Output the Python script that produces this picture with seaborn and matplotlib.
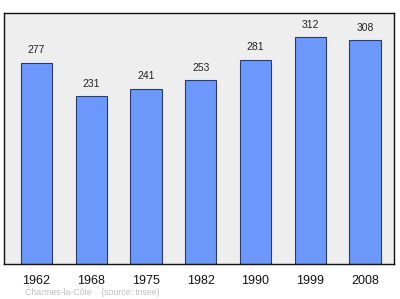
import matplotlib
matplotlib.use("Agg")
import matplotlib.pyplot as plt
import seaborn as sns
import pandas as pd

years = ["1962", "1968", "1975", "1982", "1990", "1999", "2008"]
population = [277, 231, 241, 253, 281, 312, 308]
title_text = "Charmes-la-Côte    (source: Insee)"

df = pd.DataFrame({"year": years, "pop": population})

sns.set_style("white")
plt.rcParams['font.family'] = ['Liberation Sans', 'DejaVu Sans']

fig = plt.figure(figsize=(4.0, 2.99), dpi=100)
ax = fig.add_axes([0.01, 0.1187, 0.975, 0.837])
ax.set_facecolor("#eeeeee")

sns.barplot(data=df, x="year", y="pop", ax=ax, color="#6d98fb",
            saturation=1, width=0.57, edgecolor="#2a3a6a", linewidth=0.8)

for i, v in enumerate(population):
    ax.text(i, v + 10, str(v), ha="center", va="bottom", fontsize=7.5, color="#222222")

ax.set_ylim(0, 345)
ax.set_xlim(-0.594, 6.53)
ax.set_yticks([])
ax.set_xlabel("")
ax.set_ylabel("")
ax.tick_params(axis="x", length=0, labelsize=9, pad=8, colors="#111111")
for s in ax.spines.values():
    s.set_color("#111111")
    s.set_linewidth(1.0)
    s.set_visible(True)

fig.text(0.0625, 0.023, title_text, fontsize=6.3, color="#c0c0c0", ha="left", va="center")

fig.savefig("out.png", dpi=100)
